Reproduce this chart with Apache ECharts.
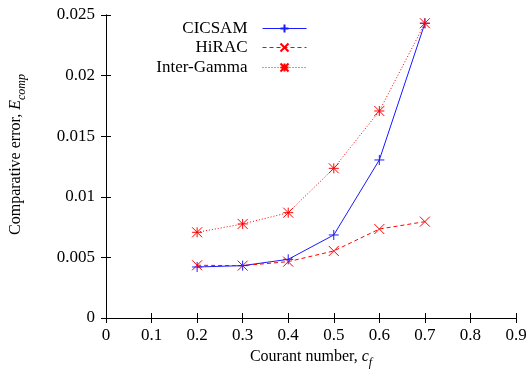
<!DOCTYPE html>
<html>
<head>
<meta charset="utf-8">
<script src="https://cdn.jsdelivr.net/npm/echarts@6/dist/echarts.min.js"></script>
<style>
  html, body { margin: 0; padding: 0; background: #fff; }
  #chart { width: 528px; height: 377px; }
</style>
</head>
<body>
<div id="chart"></div>
<script>
// Courant numbers sampled
const courant = [0.2, 0.3, 0.4, 0.5, 0.6, 0.7];
// Comparative error per scheme
const cicsam = [0.00421, 0.00432, 0.00484, 0.00685, 0.01304, 0.02432];
const hirac = [0.00435, 0.00432, 0.00465, 0.00553, 0.00734, 0.00795];
const interGamma = [0.00707, 0.00776, 0.00869, 0.01235, 0.01708, 0.02432];

const seriesNames = ['CICSAM', 'HiRAC', 'Inter-Gamma'];

const FONT = '"Liberation Serif", "Times New Roman", serif';
const BLUE = '#1a1aff';
const RED = '#ff0000';

const PLUS = 'path://M0,5L10,5M5,0L5,10';
const CROSS = 'path://M0,0L10,10M10,0L0,10';
const STAR = 'path://M0,5L10,5M5,0L5,10M0,0L10,10M10,0L0,10';

function pairs(xs, ys) {
  return xs.map((x, i) => [x, ys[i]]);
}

function makeSeries(name, ys, color, symbol, dash) {
  return {
    name: name,
    type: 'line',
    data: pairs(courant, ys),
    xAxisIndex: 0,
    yAxisIndex: 0,
    symbol: symbol,
    symbolSize: 10,
    showAllSymbol: true,
    color: color,
    lineStyle: { color: color, width: 1, type: dash },
    itemStyle: { color: 'transparent', borderColor: color, borderWidth: 1 },
    emphasis: { disabled: true },
    animation: false,
    z: 3
  };
}

const tickCommon = {
  axisLine: { show: true, lineStyle: { color: '#000', width: 1 } },
  axisTick: { show: true, inside: true, length: 5, lineStyle: { color: '#000', width: 1 } },
  splitLine: { show: false }
};

function legendFor(name, top) {
  return {
    data: [name],
    right: 221,
    top: top,
    align: 'right',
    itemWidth: 44,
    itemHeight: 10,
    itemGap: 0,
    padding: 0,
    selectedMode: false,
    lineStyle: { width: 1, type: 'inherit' },
    textStyle: { fontFamily: FONT, fontSize: 17, color: '#000', padding: [0, 10, 0, 0] }
  };
}

function nameRich(size) {
  return {
    n: { fontFamily: FONT, fontSize: size, color: '#000', lineHeight: 20 },
    i: { fontFamily: FONT, fontSize: size, fontStyle: 'italic', color: '#000', lineHeight: 20 },
    s: { fontFamily: FONT, fontSize: 12, fontStyle: 'italic', color: '#000', lineHeight: 20, verticalAlign: 'bottom', padding: [0, 0, -2, 0] }
  };
}

const chart = echarts.init(document.getElementById('chart'), null, { renderer: 'canvas' });

chart.setOption({
  backgroundColor: '#fff',
  animation: false,
  textStyle: { fontFamily: FONT },
  grid: { left: 106, right: 12, top: 15, bottom: 59, containLabel: false, outerBoundsMode: 'none' },
  legend: [
    legendFor(seriesNames[0], 20),
    legendFor(seriesNames[1], 39),
    legendFor(seriesNames[2], 59)
  ],
  xAxis: [
    Object.assign({
      type: 'value', position: 'bottom', min: 0, max: 0.9, interval: 0.1,
      axisLabel: { color: '#000', fontFamily: FONT, fontSize: 17, margin: 9 },
      name: '{n|Courant number, }{i|c}{s|f}',
      nameLocation: 'middle',
      nameGap: 29,
      nameTextStyle: { rich: nameRich(16) }
    }, tickCommon),
    Object.assign({
      type: 'value', position: 'top', min: 0, max: 0.9, interval: 0.1,
      axisLabel: { show: false }
    }, tickCommon)
  ],
  yAxis: [
    Object.assign({
      type: 'value', position: 'left', min: 0, max: 0.025, interval: 0.005,
      axisLabel: { color: '#000', fontFamily: FONT, fontSize: 17, margin: 11 },
      name: '{n|Comparative error, }{i|E}{s|comp}',
      nameLocation: 'middle',
      nameRotate: 90,
      nameGap: 80,
      nameTextStyle: { rich: nameRich(16), padding: [0, 0, 0, 24] }
    }, tickCommon),
    Object.assign({
      type: 'value', position: 'right', min: 0, max: 0.025, interval: 0.005,
      axisLabel: { show: false }
    }, tickCommon)
  ],
  series: [
    makeSeries(seriesNames[0], cicsam, BLUE, PLUS, 'solid'),
    makeSeries(seriesNames[1], hirac, RED, CROSS, [4, 3]),
    makeSeries(seriesNames[2], interGamma, RED, STAR, [1, 2])
  ]
});
</script>
</body>
</html>
